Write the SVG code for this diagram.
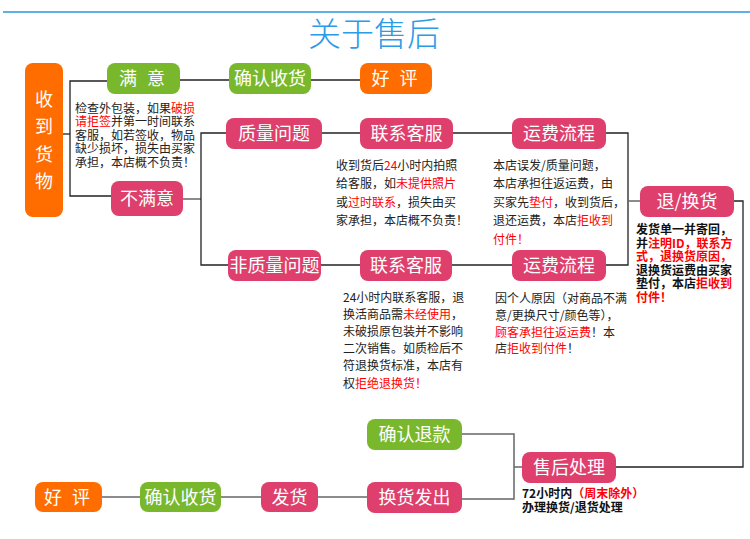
<svg xmlns="http://www.w3.org/2000/svg" width="750" height="539" viewBox="0 0 750 539">
<style>
.bg{fill:#ffffff}
.o{fill:#ff6d00}
.gr{fill:#79b82d}
.p{fill:#de3f6c}
.bt{font-family:"Noto Sans CJK SC","Noto Sans",sans-serif;font-size:18px;fill:#ffffff;text-anchor:middle}
.tx{font-family:"Noto Sans CJK SC","Noto Sans",sans-serif;font-size:12px;fill:#222222}
.b{font-weight:bold;fill:#111111}
.r{fill:#ff0000}
.c{stroke:#222222;stroke-width:1.3;fill:none}
.g{stroke:#666666;stroke-width:1.5;fill:none}
</style>
<rect class="bg" x="0" y="0" width="750" height="539"/>
<line x1="3" y1="12" x2="750" y2="12" stroke="#2a95e2" stroke-width="1.5"/>
<text x="374" y="46" font-family="'Noto Sans CJK SC','Noto Sans',sans-serif" font-size="33" font-weight="300" fill="#2b9be8" text-anchor="middle">关于售后</text>

<g id="connectors">
<polyline class="c" points="63,134 70,134"/>
<polyline class="c" points="107,81 70,81 70,196 111,196"/>
<line class="c" x1="180" y1="80" x2="229" y2="80"/>
<line class="c" x1="311" y1="80" x2="360" y2="80"/>
<line class="g" x1="183" y1="199" x2="201" y2="199"/>
<polyline class="c" points="226,133 201,133 201,265 228,265"/>
<line class="c" x1="322" y1="133" x2="360" y2="133"/>
<line class="c" x1="453" y1="133" x2="512" y2="133"/>
<polyline class="c" points="606,133 628,133 628,265 606,265"/>
<line class="g" x1="628" y1="201" x2="640" y2="201"/>
<line class="c" x1="321" y1="265" x2="360" y2="265"/>
<line class="c" x1="452" y1="265" x2="512" y2="265"/>
<polyline class="c" points="734,201 743,201 743,467 616,467"/>
<line class="g" x1="514" y1="467" x2="522" y2="467"/>
<polyline class="g" points="462,434 514,434 514,499 462,499"/>
<line class="g" x1="102" y1="497" x2="140" y2="497"/>
<line class="g" x1="221" y1="497" x2="261" y2="497"/>
<line class="g" x1="318" y1="497" x2="367" y2="497"/>
</g>

<g id="n-receive">
<rect class="o" x="25" y="63" width="38" height="154" rx="8"/>
<text class="bt" x="44" y="106">收</text>
<text class="bt" x="44" y="133">到</text>
<text class="bt" x="44" y="161">货</text>
<text class="bt" x="44" y="188">物</text>
</g>
<g id="n-satisfied">
<rect class="gr" x="107" y="63" width="73" height="31" rx="8"/>
<text class="bt" x="143.5" y="85" letter-spacing="3">满 意</text>
</g>
<g id="n-confirm1">
<rect class="gr" x="229" y="63" width="82" height="31" rx="8"/>
<text class="bt" x="270" y="85">确认收货</text>
</g>
<g id="n-good1">
<rect class="o" x="360" y="63" width="72" height="31" rx="8"/>
<text class="bt" x="396" y="85" letter-spacing="3">好 评</text>
</g>
<g id="t1">
<text class="tx" x="75" y="112.5">检查外包装，如果<tspan class="r">破损</tspan></text>
<text class="tx" x="75" y="126"><tspan class="r">请拒签</tspan>并第一时间联系</text>
<text class="tx" x="75" y="139.5">客服，如若签收，物品</text>
<text class="tx" x="75" y="153">缺少损坏，损失由买家</text>
<text class="tx" x="75" y="166.5">承担，本店概不负责！</text>
</g>
<g id="n-unsatisfied">
<rect class="p" x="111" y="181" width="72" height="35" rx="8"/>
<text class="bt" x="147" y="205">不满意</text>
</g>
<g id="n-quality">
<rect class="p" x="226" y="118" width="96" height="31" rx="8"/>
<text class="bt" x="274" y="140">质量问题</text>
</g>
<g id="n-service1">
<rect class="p" x="360" y="118" width="93" height="31" rx="8"/>
<text class="bt" x="406.5" y="140">联系客服</text>
</g>
<g id="n-freight1">
<rect class="p" x="512" y="118" width="94" height="31" rx="8"/>
<text class="bt" x="559" y="140">运费流程</text>
</g>
<g id="t2">
<text class="tx" x="336" y="169.5">收到货后<tspan class="r">24</tspan>小时内拍照</text>
<text class="tx" x="336" y="188">给客服，如<tspan class="r">未提供照片</tspan></text>
<text class="tx" x="336" y="206.5">或<tspan class="r">过时联系</tspan>，损失由买</text>
<text class="tx" x="336" y="225">家承担，本店概不负责！</text>
</g>
<g id="t3">
<text class="tx" x="493" y="169.5">本店误发/质量问题，</text>
<text class="tx" x="493" y="188">本店承担往返运费，由</text>
<text class="tx" x="493" y="206.5">买家先<tspan class="r">垫付</tspan>，收到货后，</text>
<text class="tx" x="493" y="225">退还运费，本店<tspan class="r">拒收到</tspan></text>
<text class="tx" x="493" y="243.5"><tspan class="r">付件！</tspan></text>
</g>
<g id="n-return">
<rect class="p" x="640" y="186" width="94" height="31" rx="8"/>
<text class="bt" x="687" y="208">退/换货</text>
</g>
<g id="t4">
<text class="tx b" x="636" y="234">发货单一并寄回，</text>
<text class="tx b" x="636" y="247.5">并<tspan class="r">注明ID，联系方</tspan></text>
<text class="tx b" x="636" y="261"><tspan class="r">式，退换货原因，</tspan></text>
<text class="tx b" x="636" y="274.5">退换货运费由买家</text>
<text class="tx b" x="636" y="288">垫付，本店<tspan class="r">拒收到</tspan></text>
<text class="tx b" x="636" y="301.5"><tspan class="r">付件！</tspan></text>
</g>
<g id="n-nonquality">
<rect class="p" x="228" y="250" width="93" height="31" rx="8"/>
<text class="bt" x="274.5" y="272">非质量问题</text>
</g>
<g id="n-service2">
<rect class="p" x="360" y="250" width="92" height="31" rx="8"/>
<text class="bt" x="406" y="272">联系客服</text>
</g>
<g id="n-freight2">
<rect class="p" x="512" y="250" width="94" height="31" rx="8"/>
<text class="bt" x="559" y="272">运费流程</text>
</g>
<g id="t5">
<text class="tx" x="343" y="301.5">24小时内联系客服，退</text>
<text class="tx" x="343" y="318.5">换活商品需<tspan class="r">未经使用</tspan>，</text>
<text class="tx" x="343" y="335.5">未破损原包装并不影响</text>
<text class="tx" x="343" y="352.5">二次销售。如质检后不</text>
<text class="tx" x="343" y="370">符退换货标准，本店有</text>
<text class="tx" x="343" y="387.5">权<tspan class="r">拒绝退换货！</tspan></text>
</g>
<g id="t6">
<text class="tx" x="495" y="302.5">因个人原因（对商品不满</text>
<text class="tx" x="495" y="320">意/更换尺寸/颜色等），</text>
<text class="tx" x="495" y="336.5"><tspan class="r">顾客承担往返运费</tspan>！本</text>
<text class="tx" x="495" y="353">店<tspan class="r">拒收到付件</tspan>！</text>
</g>
<g id="n-refund">
<rect class="gr" x="367" y="419" width="95" height="31" rx="8"/>
<text class="bt" x="414.5" y="441">确认退款</text>
</g>
<g id="n-aftersale">
<rect class="p" x="522" y="452" width="94" height="31" rx="8"/>
<text class="bt" x="569" y="474">售后处理</text>
</g>
<g id="t7">
<text class="tx b" x="522" y="497.5">72小时内<tspan class="r">（周末除外）</tspan></text>
<text class="tx b" x="522" y="511.5">办理换货/退货处理</text>
</g>
<g id="n-good2">
<rect class="o" x="35" y="482" width="67" height="30" rx="8"/>
<text class="bt" x="68.5" y="503.5" letter-spacing="3">好 评</text>
</g>
<g id="n-confirm2">
<rect class="gr" x="140" y="482" width="81" height="30" rx="8"/>
<text class="bt" x="180.5" y="503.5">确认收货</text>
</g>
<g id="n-ship">
<rect class="p" x="261" y="482" width="57" height="30" rx="8"/>
<text class="bt" x="289.5" y="503.5">发货</text>
</g>
<g id="n-exchange">
<rect class="p" x="367" y="482" width="95" height="31" rx="8"/>
<text class="bt" x="414.5" y="504">换货发出</text>
</g>
</svg>
